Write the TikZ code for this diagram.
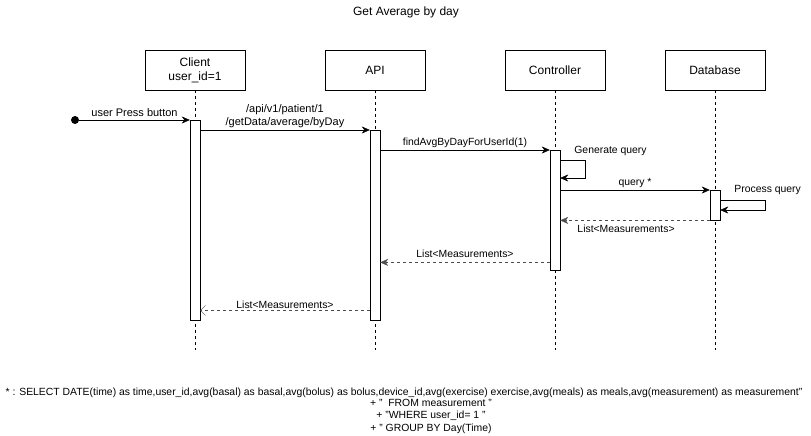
\documentclass[tikz,border=0pt]{standalone}
\usepackage{fontspec}
\setmainfont{Liberation Sans}
\usetikzlibrary{arrows.meta,calc}
\begin{document}
\begin{tikzpicture}[x=1pt,y=-1pt]
            \tikzset{
	lifebox/.style={draw,minimum width=100pt,minimum height=40pt,inner sep=0pt,align=center,font=\fontsize{12}{14}\selectfont},
	actbar/.style={draw,fill=white,minimum width=10pt,inner sep=0pt,anchor=north},
	lifeline/.style={draw,dash pattern=on 3pt off 3pt},
	msg/.style={draw,-{Stealth[length=8pt,width=7pt,inset=2.5pt]}},
	ret/.style={msg,dash pattern=on 3pt off 3pt,draw=black!70},
	reply/.style={draw,dash pattern=on 3pt off 3pt,draw=black!70,-{Straight Barb[length=5pt,width=10pt]}},
	lbl/.style={font=\fontsize{10.4}{13}\selectfont,inner sep=2pt},
	biglbl/.style={lbl,font=\fontsize{11}{13}\selectfont},
	note/.style={font=\fontsize{10.4}{12.4}\selectfont,inner sep=0pt,align=center}
}
\useasboundingbox (0,0) rectangle (811,436);

\node[font=\fontsize{12}{14}\selectfont] (title) at (406,12) {Get Average by day};

% lifelines
\node[lifebox] (client) at (195,70) {Client\\user\_id=1};
\node[lifebox] (api) at (375,70) {API};
\node[lifebox] (ctrl) at (555,70) {Controller};
\node[lifebox] (db) at (715,70) {Database};
\coordinate (bottom) at (0,350);
\foreach \n in {client,api,ctrl,db}
	\draw[lifeline] (\n.south) -- (\n.south |- bottom);

% activations
\node[actbar,minimum height=200pt] (actClient) at (195,120) {};
\node[actbar,minimum height=190pt] (actApi) at (375,130) {};
\node[actbar,minimum height=120pt] (actCtrl) at (555,150) {};
\node[actbar,minimum height=30pt] (actDb) at (715,190) {};

% calls
\node[circle,fill,minimum size=8pt,inner sep=0pt] (start) at (75,120) {};
\draw[msg] (start) -- (actClient.north west)
	node[biglbl,midway,above,yshift=1pt] {user Press button};
\draw[msg] (actClient.east |- actApi.north) -- (actApi.north west)
	node[biglbl,midway,above,align=center] {/api/v1/patient/1\\/getData/average/byDay};
\draw[msg] (actApi.east |- actCtrl.north) -- (actCtrl.north west)
	node[lbl,midway,above] {findAvgByDayForUserId(1)};
\draw[msg] ($(actCtrl.north east)+(0,10)$) coordinate (genStart)
	-- ++(25,0) -- ++(0,18) -- ++(-25,0);
\node[lbl,anchor=west] (genLbl) at ($(genStart)+(12,-9)$) {Generate query};
\draw[msg] (actCtrl.east |- actDb.north) -- (actDb.north west)
	node[lbl,midway,above] {query *};
\draw[msg] ($(actDb.north east)+(0,10)$) coordinate (procStart)
	-- ++(45,0) -- ++(0,10) -- ++(-45,0);
\node[lbl,anchor=west] (procLbl) at ($(procStart)+(12,-10)$) {Process query};

% returns
\draw[ret] (actDb.south west) -- (actCtrl.east |- actDb.south)
	node[lbl,pos=0.56,below,yshift=-2pt] {List<Measurements>};
\draw[ret] ($(actCtrl.south west)+(0,-8)$) coordinate (ret2) -- (actApi.east |- ret2)
	node[lbl,midway,above,yshift=3pt] {List<Measurements>};
\draw[reply] ($(actApi.south west)+(0,-10)$) coordinate (ret3) -- (actClient.east |- ret3)
	node[lbl,midway,above] {List<Measurements>};

% query footnote
\node[note] (sqlHead) at (404,393) {* : SELECT DATE(time) as time,user\_id,avg(basal) as basal,avg(bolus) as bolus,device\_id,avg(exercise) exercise,avg(meals) as meals,avg(measurement) as measurement"};
\node[note,anchor=north] (sqlRest) at (431,399) {+ "\ \ FROM measurement "\\+ "WHERE user\_id= 1 "\\+ " GROUP BY Day(Time)};
        \end{tikzpicture}
\end{document}
